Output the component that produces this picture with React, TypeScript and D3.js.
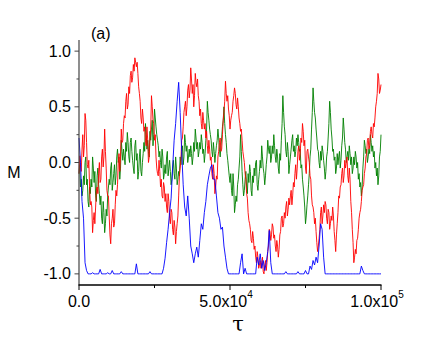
import React from 'react'
import * as d3 from 'd3'

// tau sampled every 500 steps (0 .. 1e5); red/green also have half-step samples
const tau = d3.range(0, 100001, 500)
const tauHalf = d3.range(250, 100000, 500)

const red = [
  -0.10, -0.02, 0.12, 0.05, 0.44, 0.18, -0.05, -0.22, -0.35, -0.63,
  -0.45, -0.40, -0.22, -0.10, -0.18, 0.05, -0.04, 0.30, -0.05, -0.30,
  -0.48, -0.73, -0.50, -0.58, -0.38, -0.30, 0.00, -0.08, 0.30, 0.20,
  0.42, 0.55, 0.48, 0.68, 0.78, 0.72, 0.88, 0.94, 0.86, 0.80,
  0.62, 0.40, 0.48, 0.28, 0.20, 0.32, 0.00, 0.22, 0.60, 0.38,
  0.20, 0.05, -0.10, 0.02, -0.22, -0.30, -0.18, -0.35, -0.40, -0.28,
  -0.50, -0.42, -0.60, -0.52, -0.73, -0.55, -0.30, -0.05, 0.20, 0.32,
  0.50, 0.42, 0.65, 0.58, 0.85, 0.62, 0.50, 0.80, 0.68, 0.60,
  0.42, 0.35, 0.45, 0.30, 0.22, 0.15, 0.20, 0.02, -0.10, -0.02,
  -0.28, -0.12, 0.05, 0.18, 0.10, 0.25, 0.45, 0.73, 0.55, 0.48,
  0.30, 0.42, 0.55, 0.67, 0.52, 0.58, 0.40, 0.28, 0.20, 0.05,
  -0.10, -0.28, -0.45, -0.55, -0.70, -0.62, -0.78, -0.85, -0.80, -0.95,
  -0.88, -0.90, -0.98, -0.92, -0.97, -0.80, -0.60, -0.70, -0.55, -0.68,
  -0.75, -0.70, -0.85, -0.65, -0.50, -0.58, -0.45, -0.40, -0.48, -0.32,
  -0.30, -0.38, -0.18, -0.10, -0.15, 0.10, 0.02, 0.22, 0.35, 0.15,
  -0.05, 0.10, 0.05, -0.12, -0.30, -0.40, -0.55, -0.62, -0.80, -0.68,
  -0.45, -0.55, -0.38, -0.35, -0.50, -0.42, -0.60, -0.48, -0.40, -0.62,
  -0.80, -0.55, -0.30, -0.22, -0.10, -0.18, 0.02, 0.00, -0.12, -0.05,
  -0.35, -0.60, -0.90, -0.78, -0.70, -0.60, -0.45, -0.35, -0.22, -0.10,
  0.05, 0.20, 0.12, 0.28, 0.25, 0.35, 0.40, 0.55, 0.80, 0.62, 0.70,
]

const redHalf = [
  0.06, -0.08, 0.25, 0.15, 0.38, -0.02, 0.02, -0.38, -0.40, -0.52,
  -0.55, -0.25, -0.28, 0.00, -0.15, 0.12, 0.05, 0.10, -0.25, -0.30,
  -0.65, -0.55, -0.42, -0.55, -0.25, -0.20, 0.08, 0.05, 0.18, 0.35,
  0.40, 0.62, 0.52, 0.62, 0.82, 0.76, 0.82, 0.90, 0.90, 0.68,
  0.55, 0.35, 0.40, 0.32, 0.15, 0.20, 0.05, 0.30, 0.50, 0.35,
  0.25, -0.05, -0.12, -0.08, -0.15, -0.32, -0.22, -0.28, -0.45, -0.35,
  -0.55, -0.45, -0.65, -0.58, -0.62, -0.48, -0.12, 0.02, 0.22, 0.45,
  0.55, 0.50, 0.70, 0.65, 0.75, 0.70, 0.60, 0.72, 0.75, 0.55,
  0.48, 0.30, 0.38, 0.35, 0.28, 0.08, 0.12, 0.05, -0.15, -0.10,
  -0.22, -0.15, 0.10, 0.22, 0.12, 0.38, 0.55, 0.62, 0.60, 0.42,
  0.38, 0.45, 0.60, 0.62, 0.48, 0.50, 0.35, 0.30, 0.10, 0.00,
  -0.15, -0.32, -0.52, -0.60, -0.72, -0.68, -0.75, -0.90, -0.85, -0.92,
  -0.95, -0.85, -1.00, -0.88, -0.90, -0.75, -0.62, -0.65, -0.58, -0.65,
  -0.80, -0.75, -0.78, -0.62, -0.48, -0.55, -0.50, -0.35, -0.42, -0.38,
  -0.25, -0.30, -0.22, -0.02, -0.05, 0.15, 0.08, 0.18, 0.28, 0.20,
  -0.10, 0.12, 0.00, -0.15, -0.38, -0.45, -0.50, -0.72, -0.75, -0.60,
  -0.40, -0.48, -0.45, -0.38, -0.55, -0.45, -0.55, -0.52, -0.48, -0.70,
  -0.65, -0.45, -0.32, -0.20, -0.05, -0.12, -0.05, 0.05, -0.18, -0.15,
  -0.45, -0.72, -0.85, -0.82, -0.68, -0.50, -0.42, -0.25, -0.20, -0.05,
  0.08, 0.22, 0.15, 0.32, 0.22, 0.32, 0.50, 0.62, 0.75, 0.65,
]

const green = [
  -0.10, -0.22, -0.30, -0.12, 0.00, -0.20, -0.35, -0.22, -0.15, 0.05,
  -0.18, -0.30, -0.12, -0.20, -0.38, -0.50, -0.35, -0.63, -0.42, -0.30,
  -0.15, -0.05, -0.25, -0.10, -0.20, 0.05, 0.00, -0.15, 0.20, 0.02,
  0.05, 0.18, 0.27, 0.05, 0.18, 0.10, -0.05, 0.15, 0.02, -0.15,
  0.05, -0.08, 0.00, 0.18, 0.35, 0.12, 0.10, 0.28, 0.30, 0.15,
  0.48, 0.32, 0.20, 0.05, 0.00, 0.12, -0.15, -0.02, 0.05, -0.12,
  0.02, -0.20, -0.05, -0.10, 0.05, -0.20, -0.08, 0.05, 0.10, -0.02,
  0.25, 0.10, 0.00, 0.12, 0.15, -0.02, 0.18, 0.30, 0.12, 0.05,
  0.18, 0.25, 0.08, 0.00, 0.20, 0.55, 0.38, 0.25, 0.10, 0.18,
  0.00, 0.15, 0.30, 0.12, 0.15, 0.32, 0.50, 0.25, 0.08, -0.05,
  -0.18, -0.25, -0.10, -0.45, -0.30, -0.20, -0.05, 0.25, -0.08, -0.30,
  -0.15, -0.22, -0.10, -0.02, -0.25, -0.12, -0.05, 0.00, -0.20, -0.15,
  0.02, 0.15, -0.05, -0.20, -0.02, 0.20, 0.08, 0.00, 0.15, 0.25,
  0.05, 0.12, -0.05, 0.08, 0.20, 0.60, 0.32, 0.10, 0.18, -0.10,
  0.05, 0.20, 0.10, 0.05, 0.22, 0.25, 0.10, -0.05, -0.15, -0.30,
  -0.55, -0.38, -0.20, 0.05, 0.30, 0.67, 0.45, 0.30, 0.12, 0.00,
  0.10, 0.15, 0.02, -0.15, 0.05, 0.22, 0.55, 0.30, 0.10, 0.02,
  -0.10, 0.08, 0.05, -0.05, 0.15, 0.40, 0.18, 0.00, 0.10, 0.15,
  -0.02, -0.10, 0.05, 0.10, -0.05, -0.15, -0.22, -0.30, -0.05, 0.20,
  0.08, 0.00, 0.12, 0.25, 0.10, 0.05, -0.05, -0.12, -0.20, 0.05, 0.25,
]

const greenHalf = [
  -0.02, -0.15, -0.25, -0.20, 0.05, -0.15, -0.40, -0.28, -0.22, -0.05,
  -0.08, -0.35, -0.05, -0.28, -0.30, -0.55, -0.45, -0.55, -0.48, -0.22,
  -0.20, 0.00, -0.18, -0.02, -0.12, 0.12, 0.05, -0.05, 0.10, 0.12,
  -0.02, 0.10, 0.18, 0.00, 0.22, 0.02, -0.10, 0.20, 0.08, -0.08,
  0.12, -0.12, 0.08, 0.10, 0.25, 0.20, 0.05, 0.20, 0.38, 0.25,
  0.40, 0.25, 0.15, 0.10, -0.05, 0.05, -0.10, -0.10, 0.10, -0.05,
  -0.08, -0.15, 0.02, -0.15, -0.05, -0.15, -0.12, -0.02, 0.15, 0.05,
  0.18, 0.15, 0.05, 0.05, 0.08, 0.05, 0.10, 0.22, 0.18, 0.10,
  0.12, 0.18, 0.12, 0.08, 0.30, 0.45, 0.30, 0.20, 0.05, 0.10,
  0.08, 0.20, 0.22, 0.05, 0.22, 0.38, 0.35, 0.18, 0.02, -0.12,
  -0.10, -0.30, -0.22, -0.38, -0.35, -0.15, 0.05, 0.10, -0.20, -0.25,
  -0.08, -0.28, -0.18, -0.08, -0.30, -0.18, -0.12, 0.02, -0.25, -0.08,
  -0.05, 0.05, -0.10, -0.12, 0.05, 0.12, 0.15, 0.05, 0.08, 0.15,
  0.00, 0.05, -0.10, 0.02, 0.35, 0.45, 0.25, 0.05, 0.10, -0.02,
  0.12, 0.25, 0.15, 0.10, 0.15, 0.18, 0.12, -0.02, -0.22, -0.40,
  -0.48, -0.30, -0.10, 0.12, 0.45, 0.55, 0.40, 0.22, 0.10, -0.05,
  0.02, 0.10, -0.05, -0.08, 0.10, 0.35, 0.45, 0.22, 0.12, 0.05,
  -0.05, -0.02, 0.10, 0.02, 0.22, 0.30, 0.12, 0.05, 0.02, 0.08,
  0.05, -0.05, -0.02, 0.05, 0.00, -0.10, -0.18, -0.22, 0.05, 0.15,
  0.12, 0.05, 0.08, 0.18, 0.15, 0.10, 0.00, -0.05, -0.12, 0.10,
]

const blue = [
  0.22, 0.00, -0.35, -0.50, -0.90, -0.97, -1, -1, -1, -0.99,
  -1, -1, -1, -1, -0.96, -1, -1, -1, -1, -0.99,
  -1, -1, -0.97, -1, -1, -1, -1, -1, -0.98, -1,
  -1, -1, -1, -1, -1, -1, -1, -1, -0.91, -1,
  -1, -1, -1, -1, -1, -1, -1, -0.98, -1, -1,
  -1, -1, -1, -1, -1, -1, -0.95, -0.86, -0.72, -0.60,
  -0.45, -0.32, -0.05, 0.20, 0.35, 0.55, 0.72, 0.45, 0.10, -0.20,
  -0.40, -0.48, -0.30, -0.50, -0.75, -0.82, -0.90, -0.82, -0.76, -0.85,
  -0.70, -0.55, -0.60, -0.45, -0.35, -0.20, -0.12, -0.05, -0.02, -0.15,
  -0.15, -0.30, -0.45, -0.50, -0.60, -0.58, -0.75, -0.85, -0.95, -1,
  -1, -1, -1, -1, -1, -1, -1, -0.90, -0.82, -1,
  -0.95, -1, -1, -1, -1, -1, -1, -1, -0.85, -0.92,
  -0.82, -0.95, -0.88, -0.97, -0.90, -0.80, -0.61, -0.90, -1, -1,
  -1, -1, -1, -1, -1, -1, -1, -0.98, -1, -1,
  -1, -1, -1, -1, -1, -0.98, -1, -1, -1, -1,
  -0.97, -1, -1, -0.93, -0.96, -0.88, -0.92, -0.85, -0.90, -0.75,
  -0.55, -0.60, -0.85, -1, -1, -1, -1, -1, -1, -1,
  -1, -1, -1, -1, -1, -1, -1, -1, -1, -1,
  -1, -1, -1, -1, -1, -1, -1, -0.93, -0.97, -1,
  -1, -1, -1, -1, -1, -1, -1, -1, -1, -1, -1,
]

const yTicks = [-1.0, -0.5, 0.0, 0.5, 1.0]
const yMinor = [-0.75, -0.25, 0.25, 0.75]
const xTicks = [0, 50000, 100000]
const xTickLabels = [['0.0', ''], ['5.0x10', '4'], ['1.0x10', '5']]
const xMinor = [25000, 75000]

type Pt = [number, number]

// weave the grid samples and the half-step samples into one time-ordered list
function weave(main: number[], half: number[] | null): Pt[] {
  const pts: Pt[] = []
  main.forEach((v, i) => {
    pts.push([tau[i], v])
    if (half && i < half.length) pts.push([tauHalf[i], half[i]])
  })
  return pts
}

const series = [
  { name: 'green', pts: weave(green, greenHalf), color: '#008000' },
  { name: 'red', pts: weave(red, redHalf), color: '#ff0000' },
  { name: 'blue', pts: weave(blue, null), color: '#0000ff' },
]

const W = 442
const H = 341
const font = '"Liberation Sans", Arial, Helvetica, sans-serif'

export default function App() {
  const x = d3.scaleLinear().domain([0, 100000]).range([79, 381])
  const y = d3.scaleLinear().domain([-1.1, 1.1]).range([285, 40])

  const line = d3
    .line<Pt>()
    .x((d) => x(d[0]))
    .y((d) => y(d[1]))

  return (
    <svg
      width={W}
      height={H}
      style={{ position: 'absolute', left: 0, top: 0, background: '#fff' }}
      fontFamily={font}
    >
      {series.map((s) => (
        <path key={s.name} d={line(s.pts) || ''} fill="none" stroke={s.color} strokeWidth={1} strokeOpacity={0.9} />
      ))}

      {/* y axis */}
      <line x1={79} x2={79} y1={y(1.1)} y2={y(-1.1)} stroke="#444" strokeWidth={1.2} />
      {yTicks.map((t) => (
        <g key={t}>
          <line x1={74.5} x2={79} y1={y(t)} y2={y(t)} stroke="#444" strokeWidth={1} />
          <text x={71} y={y(t) + 5.5} textAnchor="end" fontSize={16} fill="#000">
            {t.toFixed(1)}
          </text>
        </g>
      ))}
      {yMinor.map((t) => (
        <line key={t} x1={76.5} x2={79} y1={y(t)} y2={y(t)} stroke="#444" strokeWidth={1} />
      ))}

      {/* x axis */}
      <line x1={78.5} x2={381.5} y1={285} y2={285} stroke="#000" strokeWidth={1.5} />
      {xTicks.map((t, i) => (
        <g key={t}>
          <line x1={x(t)} x2={x(t)} y1={285} y2={290} stroke="#000" strokeWidth={1} />
          <text x={x(t) - (i === 0 ? 0 : 4)} y={307} textAnchor="middle" fontSize={16} fill="#000">
            {xTickLabels[i][0]}
            {xTickLabels[i][1] && (
              <tspan fontSize={10} dy={-9}>
                {xTickLabels[i][1]}
              </tspan>
            )}
          </text>
        </g>
      ))}
      {xMinor.map((t) => (
        <line key={t} x1={x(t)} x2={x(t)} y1={285} y2={288} stroke="#000" strokeWidth={1} />
      ))}

      <text x={238} y={331} textAnchor="middle" fontSize={21} fill="#000" fontFamily="'DejaVu Serif', serif">
        τ
      </text>
      <text x={14} y={178} textAnchor="middle" fontSize={16} fill="#000">
        M
      </text>
      <text x={91} y={39} fontSize={16} fill="#000">
        (a)
      </text>
    </svg>
  )
}
